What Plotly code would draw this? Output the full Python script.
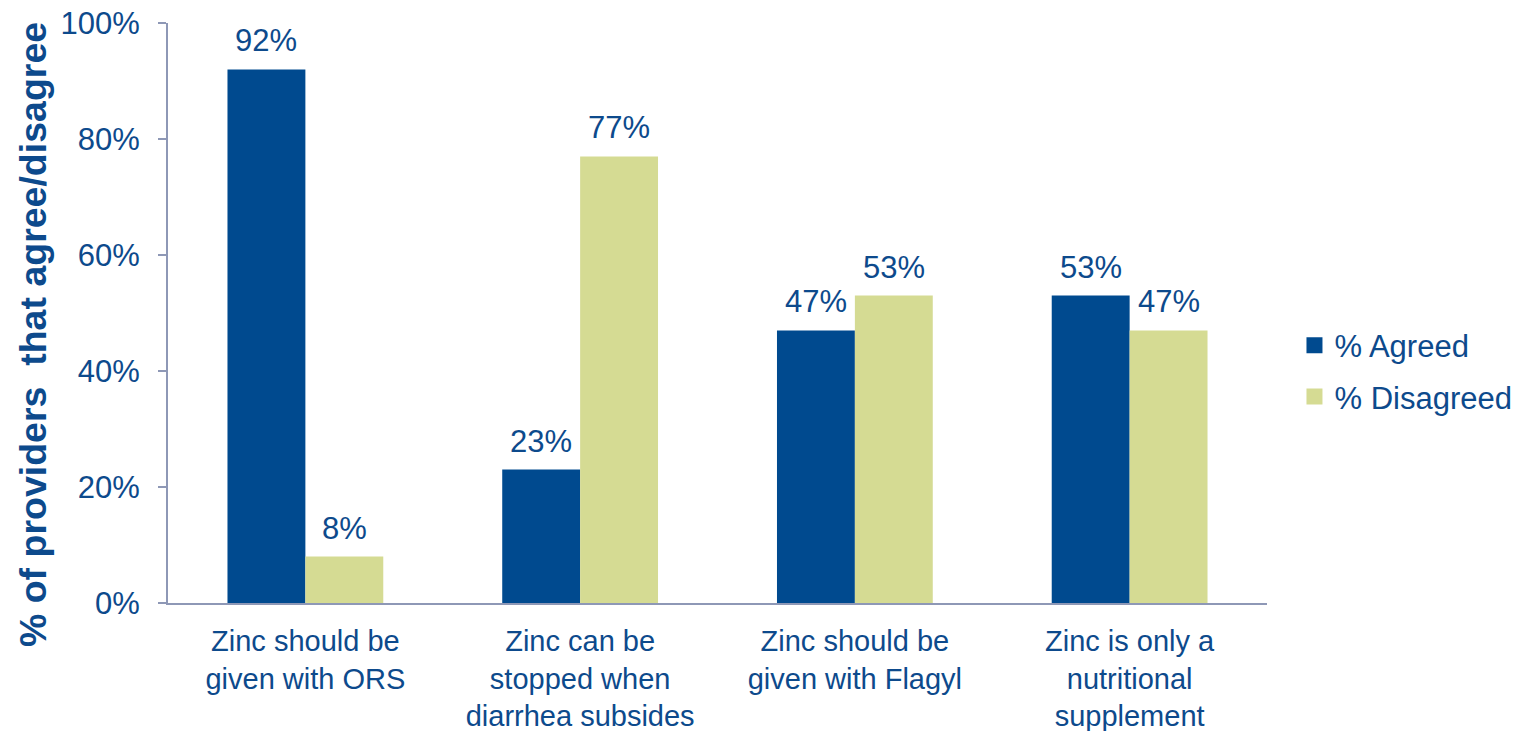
import plotly.graph_objects as go

categories = ["Zinc should be<br>given with ORS",
              "Zinc can be<br>stopped when<br>diarrhea subsides",
              "Zinc should be<br>given with Flagyl",
              "Zinc is only a<br>nutritional<br>supplement"]
agreed = [92, 23, 47, 53]
disagreed = [8, 77, 53, 47]
tick_vals = [0, 20, 40, 60, 80, 100]
tick_text = ["0%", "20%", "40%", "60%", "80%", "100%"]
series_names = ["% Agreed", "% Disagreed"]
colors = ["#004A8F", "#D5DB93"]

TXT = "#0D4A8C"
FONT = "Liberation Sans, Arial, sans-serif"
FS = 31

W, H = 1526, 731
ML, MR, MT, MB = 168, 259, 23, 128
BARGAP = 0.433
plot_w = W - ML - MR
bar_px = plot_w / len(categories) * (1 - BARGAP) / 2

fig = go.Figure()
for i, (name, vals, col) in enumerate(zip(series_names, [agreed, disagreed], colors)):
    fig.add_trace(go.Bar(name=name, x=categories, y=vals, showlegend=False,
                         marker=dict(color=col, line=dict(width=0)),
                         textposition="none", hoverinfo="x+y"))
    shift = (i - 0.5) * bar_px
    for c, v in zip(categories, vals):
        fig.add_annotation(x=c, y=v, xref="x", yref="y", text=f"{v}%",
                           showarrow=False, xanchor="center", yanchor="bottom",
                           xshift=shift, yshift=9,
                           font=dict(size=FS, color=TXT, family=FONT))
# legend entries with square markers
for name, col in zip(series_names, colors):
    fig.add_trace(go.Scatter(name=name, x=[None], y=[None], mode="markers",
                             legendgroup=name,
                             marker=dict(symbol="square", size=16, color=col)))

fig.update_layout(
    width=W, height=H,
    margin=dict(l=ML, r=MR, t=MT, b=MB, autoexpand=False),
    paper_bgcolor="white", plot_bgcolor="white",
    barmode="group", bargap=BARGAP, bargroupgap=0,
    font=dict(family=FONT, size=FS, color=TXT),
    showlegend=True,
    legend=dict(x=1.025, y=0.4, xanchor="left", yanchor="middle",
                font=dict(size=FS, color=TXT), tracegroupgap=8,
                itemwidth=30, bgcolor="rgba(0,0,0,0)"),
)
fig.update_xaxes(showline=True, linecolor="#8E98B6", linewidth=2,
                 ticks="", tickfont=dict(size=29, color=TXT), showgrid=False,
                 automargin=False, ticklabelstandoff=11)
fig.update_yaxes(range=[0, 100], tickvals=tick_vals, ticktext=tick_text,
                 showline=True, linecolor="#8E98B6", linewidth=2,
                 ticks="outside", ticklen=8, tickcolor="#8E98B6", tickwidth=2,
                 showgrid=False, zeroline=False, automargin=False,
                 tickfont=dict(size=FS, color=TXT), ticklabelstandoff=12)

fig.add_annotation(text="<b>% of providers  that agree/disagree</b>",
                   xref="paper", yref="paper", x=-0.1228, y=0.462,
                   xanchor="center", yanchor="middle", textangle=-90,
                   showarrow=False, font=dict(size=37.5, color=TXT, family=FONT))

fig.write_html("out.html")
